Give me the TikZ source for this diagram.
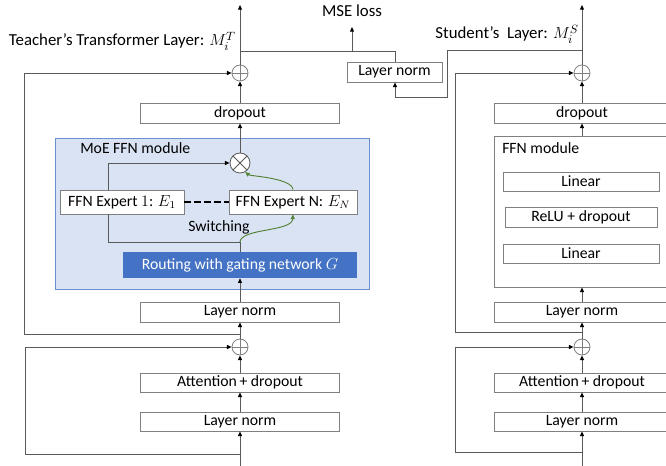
\documentclass[tikz,border=0pt]{standalone}
\usepackage{fontspec}
\setmainfont{Carlito}
\usetikzlibrary{arrows.meta,calc}
\definecolor{lnc}{HTML}{5A5A5A}
\definecolor{boxc}{HTML}{808080}
\definecolor{moefill}{HTML}{DAE3F3}
\definecolor{moedraw}{HTML}{6A8FCF}
\definecolor{route}{HTML}{4472C4}
\definecolor{grn}{HTML}{548235}
\begin{document}
\begin{tikzpicture}[x=0.75pt,y=-0.75pt,
  sz/.style 2 args={minimum width=#1*0.75pt,minimum height=#2*0.75pt},
  box/.style={draw=boxc,line width=0.6pt,fill=white,inner sep=0pt,font=\fontsize{11.8}{13}\selectfont},
  ln/.style={draw=lnc,line width=0.7pt},
  arr/.style={ln,-{Triangle[length=3.5pt,width=3pt,fill=black,color=black]}},
  garr/.style={draw=grn,line width=0.7pt,-{Triangle[length=3.5pt,width=3pt]}},
  lbl/.style={inner sep=0pt,font=\fontsize{12.6}{14}\selectfont},
  txt/.style={inner sep=0pt,font=\fontsize{11.8}{13}\selectfont},
  plus/.style={circle,draw=boxc,line width=0.6pt,fill=white,inner sep=0pt,minimum size=16*0.75pt,
    path picture={\draw[boxc,line width=0.6pt] (path picture bounding box.north) -- (path picture bounding box.south)
      (path picture bounding box.west) -- (path picture bounding box.east);}},
  otim/.style={circle,draw=lnc,line width=0.6pt,fill=white,inner sep=0pt,minimum size=20*0.75pt,
    path picture={\draw[lnc,line width=0.6pt] (path picture bounding box.north west) -- (path picture bounding box.south east)
      (path picture bounding box.north east) -- (path picture bounding box.south west);}}
]
\useasboundingbox (0,0) rectangle (666,466);
\clip (0,0) rectangle (666,466);
\fill[white] (0,0) rectangle (666,466);

% ---------------- Teacher ----------------
\node[box,sz={199}{19}] (tLN1) at (240,421.5) {Layer norm};
\node[box,sz={199}{19}] (tAttn) at (240,382.5) {Attention\,+ dropout};
\node[plus] (tP2) at (240,347) {};
\node[box,sz={199}{20}] (tLN2) at (240,312) {Layer norm};
\node[draw=moedraw,fill=moefill,line width=0.7pt,inner sep=0pt,sz={314}{151}] (moe) at (212,213.5) {};
\node[txt,anchor=west] (moel) at (80,148) {MoE FFN module};
\node[fill=route,inner sep=0pt,sz={234}{26},text=white,font=\fontsize{11.8}{13}\selectfont] (route) at (240,265) {Routing with gating network $G$};
\node[box,sz={124}{24}] (E1) at (122,202) {FFN Expert $1$: $E_1$};
\node[box,sz={128}{24}] (EN) at (293,202) {FFN Expert $\mathrm{N}$: $E_N$};
\node[otim] (ot) at (240,163) {};
\node[txt] (sw) at (219,227) {Switching};
\node[box,sz={199}{20}] (tDrop) at (240,113) {dropout};
\node[plus] (tP1) at (240,73) {};
\node[lbl,anchor=base east] (tlab) at (236,46) {Teacher’s Transformer Layer: $M_i^T$};
\node[box,sz={95}{20}] (sLNs) at (394.5,72) {Layer norm};
\node[lbl,anchor=base] (mse) at (352,17) {MSE loss};

\coordinate (tin) at (240,466);
\coordinate (tout) at (240,5);
\coordinate (tj2) at (240,454);
\coordinate (tj1) at (240,334);
\coordinate (tj3) at (240,51);
\coordinate (rj) at (240,242);
\coordinate (e1b) at (108,214);
\coordinate (e1t) at (108,190);
\coordinate (msej) at (352,51);
\coordinate (msetip) at (352,27);

\draw[arr] (tin) -- (tLN1.south);
\draw[arr] (tLN1.north) -- (tAttn.south);
\draw[arr] (tAttn.north) -- (tP2.south);
\draw[arr] (tj2) -- (25,454) |- (tP2.west);
\draw[arr] (tP2.north) -- (tLN2.south);
\draw[arr] (tj1) -- (24,334) |- (tP1.west);
\draw[arr] (tLN2.north) -- (route.south);
\draw[ln] (route.north) -- (rj) -| (e1b);
\draw[arr] (e1t) |- (ot.west);
\draw[garr] (rj) .. controls (241,228) and (292,232) .. (EN.south);
\draw[garr] (EN.north) .. controls (292,178) and (250,176) .. (ot.-60);
\draw[black,line width=2pt,dash pattern=on 5pt off 2.5pt] (E1.east) -- (EN.west);
\draw[arr] (ot.north) -- (tDrop.south);
\draw[arr] (tDrop.north) -- (tP1.south);
\draw[arr] (tP1.north) -- (tout);
\draw[ln] (tj3) -- (395,51) -- (sLNs.north -| 395,0);
\draw[arr] (msej) -- (msetip);

% ---------------- Student ----------------
\node[box,sz={176}{19}] (sLN1) at (582,421.5) {Layer norm};
\node[box,sz={176}{19}] (sAttn) at (582,382.5) {Attention\,+ dropout};
\node[plus] (sP2) at (582,347) {};
\node[box,sz={176}{20}] (sLN2) at (582,312) {Layer norm};
\node[box,sz={176}{151}] (ffn) at (582,211.5) {};
\node[txt,anchor=west] (ffnl) at (502,148) {FFN module};
\node[box,sz={156}{19}] (lin1) at (581,181.5) {Linear};
\node[box,sz={152}{20}] (relu) at (581,217) {ReLU + dropout};
\node[box,sz={156}{19}] (lin2) at (581,253.5) {Linear};
\node[box,sz={176}{20}] (sDrop) at (582,113) {dropout};
\node[plus] (sP1) at (582,73) {};
\node[lbl,anchor=base east] (slab) at (579,39) {Student’s\ \ Layer: $M_i^S$};

\coordinate (sin) at (582,466);
\coordinate (sout) at (582,5);
\coordinate (sj2) at (582,452);
\coordinate (sj1) at (582,332);
\coordinate (sj3) at (582,50);

\draw[arr] (sin) -- (sLN1.south);
\draw[arr] (sLN1.north) -- (sAttn.south);
\draw[arr] (sAttn.north) -- (sP2.south);
\draw[arr] (sj2) -- (455,452) |- (sP2.west);
\draw[arr] (sP2.north) -- (sLN2.south);
\draw[arr] (sj1) -- (455,332) |- (sP1.west);
\draw[arr] (sLN2.north) -- (ffn.south);
\draw[arr] (ffn.north) -- (sDrop.south);
\draw[arr] (sDrop.north) -- (sP1.south);
\draw[arr] (sP1.north) -- (sout);
\draw[arr] (sj3) -- (447,50) -- (447,97) -- (395,97) -- (sLNs.south -| 395,0);
\end{tikzpicture}
\end{document}
